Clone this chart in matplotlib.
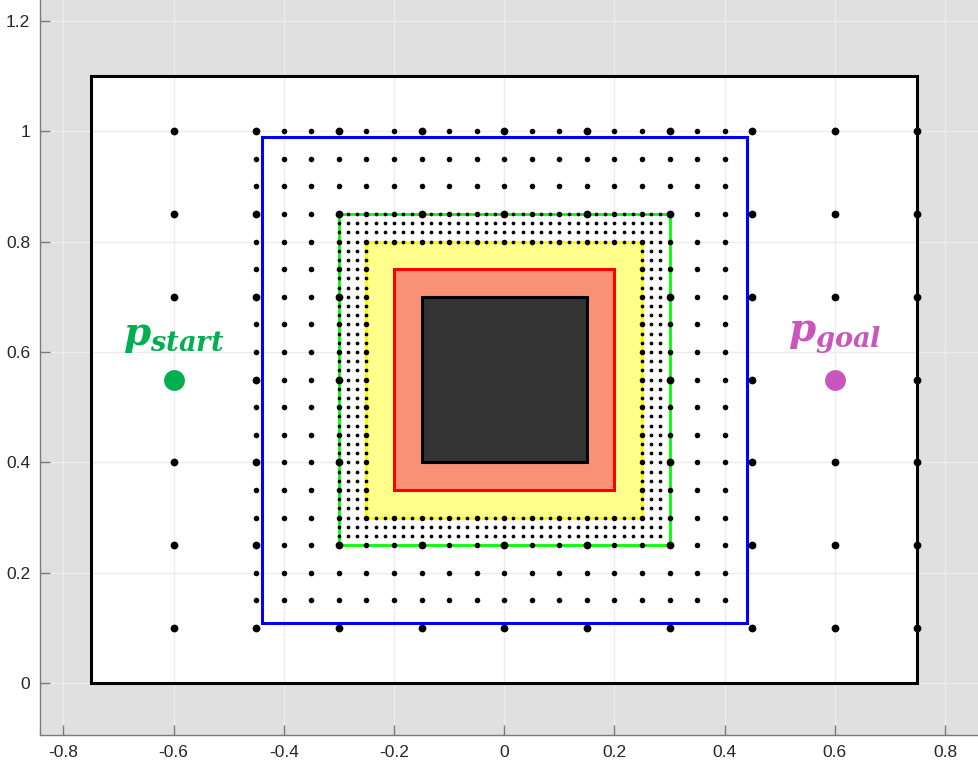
import matplotlib
matplotlib.use('Agg')
import matplotlib.pyplot as plt
from matplotlib.patches import Rectangle
from matplotlib.ticker import FormatStrFormatter

plt.rcParams['font.family'] = ['Liberation Sans', 'DejaVu Sans']
plt.rcParams['axes.unicode_minus'] = False
plt.rcParams['mathtext.fontset'] = 'custom'
plt.rcParams['mathtext.it'] = 'DejaVu Serif:italic:bold'
plt.rcParams['mathtext.rm'] = 'DejaVu Serif:bold'

# sampling grids (coarse / medium / fine)
coarse_x = [-0.6, -0.45, -0.3, -0.15, 0.0, 0.15, 0.3, 0.45, 0.6, 0.75]
coarse_y = [0.1, 0.25, 0.4, 0.55, 0.7, 0.85, 1.0]
medium_x = [-0.45, -0.4, -0.35, -0.3, -0.25, -0.2, -0.15, -0.1, -0.05,
            0.0, 0.05, 0.1, 0.15, 0.2, 0.25, 0.3, 0.35, 0.4]
medium_y = [0.15, 0.2, 0.25, 0.3, 0.35, 0.4, 0.45, 0.5, 0.55,
            0.6, 0.65, 0.7, 0.75, 0.8, 0.85, 0.9, 0.95, 1.0]
fine_x = [-0.3, -0.2833, -0.2667, -0.25, -0.2333, -0.2167, -0.2, -0.1833, -0.1667,
          -0.15, -0.1333, -0.1167, -0.1, -0.0833, -0.0667, -0.05, -0.0333, -0.0167,
          0.0, 0.0167, 0.0333, 0.05, 0.0667, 0.0833, 0.1, 0.1167, 0.1333,
          0.15, 0.1667, 0.1833, 0.2, 0.2167, 0.2333, 0.25, 0.2667, 0.2833]
fine_y = [0.2667, 0.2833, 0.3, 0.3167, 0.3333, 0.35, 0.3667, 0.3833, 0.4,
          0.4167, 0.4333, 0.45, 0.4667, 0.4833, 0.5, 0.5167, 0.5333, 0.55,
          0.5667, 0.5833, 0.6, 0.6167, 0.6333, 0.65, 0.6667, 0.6833, 0.7,
          0.7167, 0.7333, 0.75, 0.7667, 0.7833, 0.8, 0.8167, 0.8333, 0.85]

start = (-0.6, 0.55)
goal = (0.6, 0.55)

# rectangles: (x0, y0, x1, y1)
domain = (-0.75, 0.0, 0.75, 1.1)
blue_box = (-0.44, 0.11, 0.44, 0.99)
green_box = (-0.3, 0.25, 0.3, 0.85)
yellow_box = (-0.25, 0.3, 0.25, 0.8)
red_box = (-0.2, 0.35, 0.2, 0.75)
obstacle = (-0.15, 0.4, 0.15, 0.7)


def inside(x, y, box, tol=1e-3):
    return box[0] + tol < x < box[2] - tol and box[1] + tol < y < box[3] - tol


def grid_points(xs, ys):
    px, py = [], []
    for x in xs:
        for y in ys:
            if inside(x, y, yellow_box):
                continue
            if (abs(x - start[0]) < 1e-6 or abs(x - goal[0]) < 1e-6) and abs(y - start[1]) < 1e-6:
                continue
            px.append(x)
            py.append(y)
    return px, py


def rect(ax, box, **kw):
    ax.add_patch(Rectangle((box[0], box[1]), box[2] - box[0], box[3] - box[1], **kw))


fig = plt.figure(figsize=(9.79, 7.66), dpi=100)
ax = fig.add_axes([40 / 979, 31 / 766, 939 / 979, 735 / 766])
ax.set_facecolor('#e0e0e0')

# domain: fill below the grid, outline above it
rect(ax, domain, facecolor='white', edgecolor='none', zorder=0.3)
rect(ax, domain, facecolor='none', edgecolor='black', linewidth=2.2, zorder=1)
rect(ax, blue_box, facecolor='none', edgecolor='#0000ff', linewidth=2.2, zorder=1)
rect(ax, green_box, facecolor='white', edgecolor='#00ff00', linewidth=2.0, zorder=1.1)
rect(ax, yellow_box, facecolor='#ffff8c', edgecolor='#ffff00', linewidth=2.2, zorder=1.2)
rect(ax, red_box, facecolor='#fa9174', edgecolor='#ff0000', linewidth=2.2, zorder=1.3)
rect(ax, obstacle, facecolor='#333333', edgecolor='black', linewidth=2.2, zorder=1.4)

fx, fy = grid_points(fine_x, fine_y)
ax.plot(fx, fy, 'o', color='black', markersize=2.7, markeredgewidth=0, zorder=3)
mx, my = grid_points(medium_x, medium_y)
ax.plot(mx, my, 'o', color='black', markersize=4.0, markeredgewidth=0, zorder=3.1)
cx, cy = grid_points(coarse_x, coarse_y)
ax.plot(cx, cy, 'o', color='black', markersize=5.6, markeredgewidth=0, zorder=3.2)

ax.plot(*start, 'o', color='#00b050', markersize=15, markeredgewidth=0, zorder=4)
ax.plot(*goal, 'o', color='#c956bc', markersize=15, markeredgewidth=0, zorder=4)
ax.text(start[0], 0.594, r'$p_{start}$', color='#00b050', fontsize=28,
        ha='center', va='bottom', zorder=5)
ax.text(goal[0], 0.594, r'$p_{goal}$', color='#c956bc', fontsize=28,
        ha='center', va='bottom', zorder=5)

ax.set_xlim(-0.8425, 0.8617)
ax.set_ylim(-0.0936, 1.2375)
ax.set_xticks([-0.8, -0.6, -0.4, -0.2, 0, 0.2, 0.4, 0.6, 0.8])
ax.set_yticks([0, 0.2, 0.4, 0.6, 0.8, 1.0, 1.2])
ax.xaxis.set_major_formatter(FormatStrFormatter('%g'))
ax.yaxis.set_major_formatter(FormatStrFormatter('%g'))
ax.set_axisbelow(True)
ax.grid(True, color='#ececec', linewidth=1.0)
ax.tick_params(direction='in', length=7, width=1, color='#7a7a7a',
               labelsize=12.5, labelcolor='#262626', pad=7)
for side in ('top', 'right'):
    ax.spines[side].set_visible(False)
for side in ('left', 'bottom'):
    ax.spines[side].set_color('#7a7a7a')
    ax.spines[side].set_linewidth(1.0)

fig.savefig('out.png', dpi=100)
